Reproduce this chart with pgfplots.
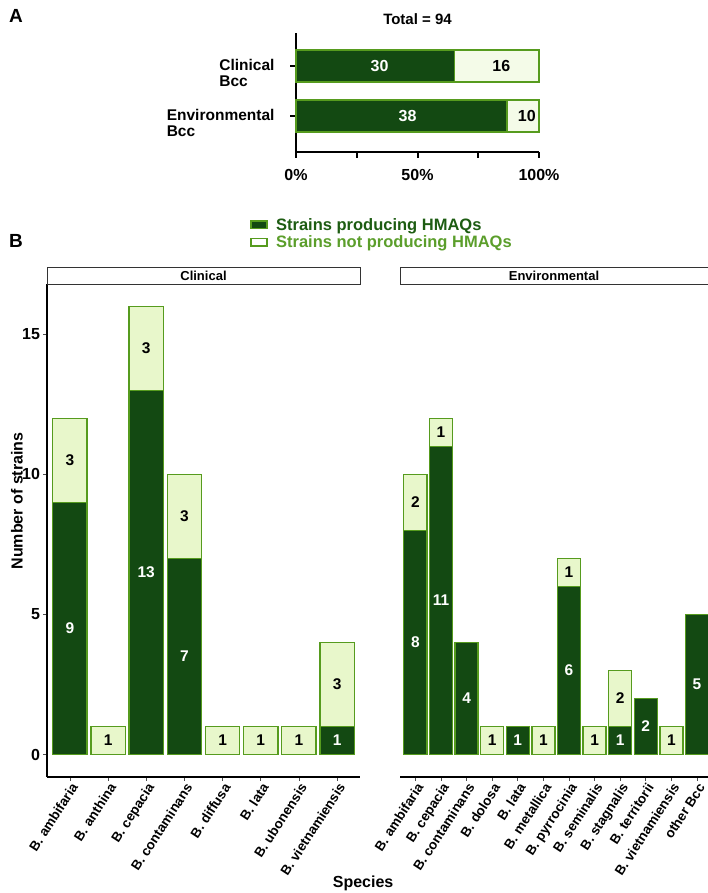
\documentclass[border=0pt]{standalone}
\usepackage{pgfplots}
\pgfplotsset{compat=1.18}
\usepackage{fontspec}
\setmainfont{Liberation Sans}
\definecolor{dk}{RGB}{19,73,18}
\definecolor{ed}{RGB}{86,155,30}
\definecolor{lt}{RGB}{232,247,203}
\definecolor{ltA}{RGB}{244,251,232}
\definecolor{legdk}{RGB}{29,92,18}
\definecolor{leglt}{RGB}{91,158,43}
\newcommand{\fs}[1]{\fontsize{#1pt}{#1pt}\selectfont\bfseries}
\pgfplotsset{
  /pgf/number format/assume math mode=true,
  lbl/.style={only marks, mark=none, nodes near coords, point meta=explicit symbolic,
    nodes near coords style={anchor=center, font=\fs{15.5}, inner sep=0pt}},
}
\begin{document}
\begin{tikzpicture}
\useasboundingbox (0,0) rectangle (708pt,-893pt);
\node[font=\fs{19}] at (16pt,-16pt) {A};
\node[font=\fs{19}] at (16pt,-241pt) {B};
% ---------------- Panel A
\begin{axis}[name=A, at={(296pt,-152pt)}, anchor=south west, scale only axis,
  width=243pt, height=119pt, xmin=0, xmax=100, ymin=0.28, ymax=2.66,
  axis x line*=bottom, axis y line*=left, axis line style={line width=2pt,-},
  xtick={0,25,50,75,100}, xticklabels={0\%,,50\%,,100\%},
  ytick={1,2}, yticklabels={Environmental\\Bcc, Clinical\\Bcc},
  yticklabel style={align=left, font=\fs{15.5}, yshift=-7pt, xshift=-12pt},
  xticklabel style={font=\fs{16}, yshift=-8pt},
  tick align=outside, major tick length=6pt, tick style={line width=2pt, black},
  bar width=0.64, clip=false,
  title={Total = 94}, title style={at={(0.5,1)}, anchor=south, inner sep=0pt, yshift=2pt, font=\fs{15}},
]
\addplot[xbar, bar shift=0pt, fill=ltA, draw=ed, line width=1.6pt] coordinates {(100,1) (100,2)};
\addplot[xbar, bar shift=0pt, fill=dk, draw=ed, line width=1.6pt] coordinates {(86.8,1) (65.2,2)};
\addplot[lbl, nodes near coords style={text=white, font=\fs{16}}] table[meta=l] {
x y l
34.4 2 30
45.9 1 38
};
\addplot[lbl, nodes near coords style={text=black, font=\fs{16}}] table[meta=l] {
x y l
84.5 2 16
95.0 1 10
};
\end{axis}
% ---------------- Panel B left
\begin{axis}[name=L, at={(47pt,-777pt)}, anchor=south west, scale only axis,
  width=313pt, height=493pt, xmin=-0.6, xmax=7.6, ymin=-0.8, ymax=16.8,
  axis x line*=bottom, axis y line*=left, axis line style={line width=1.2pt,-},
  ytick={0,5,10,15}, yticklabel style={font=\fs{16}},
  xtick={0,...,7},
  xticklabels={B. ambifaria, B. anthina, B. cepacia, B. contaminans, B. diffusa, B. lata, B. ubonensis, B. vietnamiensis},
  xticklabel style={rotate=57, anchor=north east, font=\fs{13.5}, inner sep=1pt},
  tick align=outside, major tick length=3.5pt, tick style={line width=0.8pt, black!70},
  ylabel={Number of strains}, ylabel style={font=\fs{16}, at={(axis description cs:-0.096,0.56)}, anchor=center},
  xlabel={Species}, xlabel style={font=\fs{16}, at={(axis description cs:1.01,-0.215)}, anchor=center},
  bar width=0.9,
  legend style={at={(axis description cs:0.649,1.136)}, anchor=north west, draw=none, fill=none,
    font=\fs{16.5}, inner sep=0pt, row sep=2pt, nodes={inner sep=1pt}},
  legend cell align=left,
  legend image code/.code={\draw[#1] (0pt,-3.5pt) rectangle (16pt,4pt); \path[draw=none, fill=none] (0pt,0pt) -- (24pt,0pt);},
]
\addlegendimage{fill=dk, draw=ed, line width=1.5pt}
\addlegendentry{\textcolor{legdk}{Strains producing HMAQs}}
\addlegendimage{fill=white, draw=ed, line width=1.5pt}
\addlegendentry{\textcolor{leglt}{Strains not producing HMAQs}}
\addplot[ybar, bar shift=0pt, fill=lt, draw=ed, line width=1.3pt, forget plot] coordinates
  {(0,12) (1,1) (2,16) (3,10) (4,1) (5,1) (6,1) (7,4)};
\addplot[ybar, bar shift=0pt, fill=dk, draw=ed, line width=1.3pt, forget plot] coordinates
  {(0,9) (2,13) (3,7) (7,1)};
\addplot[lbl, forget plot, nodes near coords style={text=white}] table[meta=l] {
x y l
0 4.5 9
2 6.5 13
3 3.5 7
7 0.5 1
};
\addplot[lbl, forget plot, nodes near coords style={text=black}] table[meta=l] {
x y l
0 10.5 3
1 0.5 1
2 14.5 3
3 8.5 3
4 0.5 1
5 0.5 1
6 0.5 1
7 2.5 3
};
\end{axis}
% ---------------- Panel B right
\begin{axis}[name=R, at={(400pt,-777pt)}, anchor=south west, scale only axis,
  width=308pt, height=493pt, xmin=-0.6, xmax=11.43, ymin=-0.8, ymax=16.8,
  axis x line*=bottom, axis y line*=left, axis line style={line width=1.2pt,-},
  y axis line style={draw=none}, ytick=\empty,
  xtick={0,...,11},
  xticklabels={B. ambifaria, B. cepacia, B. contaminans, B. dolosa, B. lata, B. metallica, B. pyrrocinia, B. seminalis, B. stagnalis, B. territorii, B. vietnamiensis, other Bcc},
  xticklabel style={rotate=57, anchor=north east, font=\fs{13.5}, inner sep=1pt},
  tick align=outside, major tick length=3.5pt, tick style={line width=0.8pt, black!70},
  bar width=0.9,
]
\addplot[ybar, bar shift=0pt, fill=lt, draw=ed, line width=1.3pt] coordinates
  {(0,10) (1,12) (2,4) (3,1) (4,1) (5,1) (6,7) (7,1) (8,3) (9,2) (10,1) (11,5)};
\addplot[ybar, bar shift=0pt, fill=dk, draw=ed, line width=1.3pt] coordinates
  {(0,8) (1,11) (2,4) (4,1) (6,6) (8,1) (9,2) (11,5)};
\addplot[lbl, nodes near coords style={text=white}] table[meta=l] {
x y l
0 4 8
1 5.5 11
2 2 4
4 0.5 1
6 3 6
8 0.5 1
9 1 2
11 2.5 5
};
\addplot[lbl, nodes near coords style={text=black}] table[meta=l] {
x y l
0 9 2
1 11.5 1
3 0.5 1
5 0.5 1
6 6.5 1
7 0.5 1
8 2 2
10 0.5 1
};
\end{axis}
% strips
\draw[draw=black!80, line width=0.8pt, fill=white] (L.north west) rectangle ([yshift=17pt]L.north east);
\path (L.north) ++(0,8.5pt) node[font=\fs{13}] {Clinical};
\draw[draw=black!80, line width=0.8pt, fill=white] (R.north west) rectangle ([yshift=17pt]R.north east);
\path (R.north) ++(0,8.5pt) node[font=\fs{13}] {Environmental};
\end{tikzpicture}
\end{document}
